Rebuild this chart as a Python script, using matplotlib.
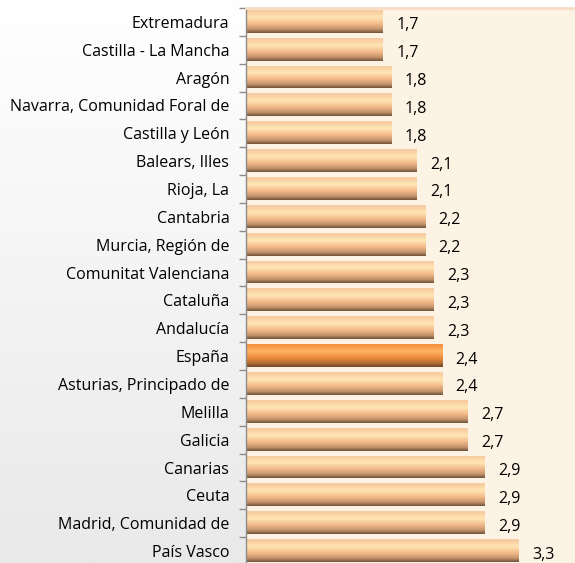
import numpy as np
import matplotlib
matplotlib.use("Agg")
import matplotlib.pyplot as plt
from matplotlib.colors import to_rgb

regions = ["Extremadura", "Castilla - La Mancha", "Aragón", "Navarra, Comunidad Foral de",
           "Castilla y León", "Balears, Illes", "Rioja, La", "Cantabria", "Murcia, Región de",
           "Comunitat Valenciana", "Cataluña", "Andalucía", "España", "Asturias, Principado de",
           "Melilla", "Galicia", "Canarias", "Ceuta", "Madrid, Comunidad de", "País Vasco"]
values = [1.7, 1.7, 1.8, 1.8, 1.8, 2.1, 2.1, 2.2, 2.2, 2.3, 2.3, 2.3, 2.4, 2.4,
          2.7, 2.7, 2.9, 2.9, 2.9, 3.3]
highlight = "España"

plt.rcParams['font.family'] = ['Open Sans', 'DejaVu Sans']

W, H = 575, 563
fig = plt.figure(figsize=(W / 100, H / 100), dpi=100)

# figure background gradient
bg = fig.add_axes([0, 0, 1, 1], zorder=-5)
grad = np.linspace(0, 1, 256)[:, None]
c_top, c_bot = np.array(to_rgb("#FFFFFF")), np.array(to_rgb("#E9E9E9"))
bgimg = c_top[None, None, :] * (1 - grad[..., None]) + c_bot[None, None, :] * grad[..., None]
bg.imshow(bgimg, aspect='auto', extent=(0, 1, 0, 1), origin='upper')
bg.axis('off')

ax = fig.add_axes([246 / W, -2 / H, 1 - 246 / W, 557 / H])
ax.set_facecolor("#FDF3E4")


def make_grad(stops):
    pos = np.array([s[0] for s in stops])
    cols = np.array([to_rgb(s[1]) for s in stops])
    t = np.linspace(0, 1, 200)
    arr = np.stack([np.interp(t, pos, cols[:, k]) for k in range(3)], axis=-1)
    return arr[:, None, :]


normal_grad = make_grad([(0.0, "#F9E0C8"), (0.08, "#F7C89E"), (0.35, "#FFE6B4"),
                         (0.62, "#F4BA89"), (0.84, "#C4936A"), (1.0, "#6E5139")])
hl_grad = make_grad([(0.0, "#F9B377"), (0.08, "#F6903C"), (0.35, "#FFB465"),
                     (0.62, "#EC8B3A"), (0.84, "#B26C32"), (1.0, "#6A4428")])

y = np.arange(len(regions))
h = 0.86
bars = ax.barh(y, values, height=h, color='none', edgecolor='none')

xmin, xmax = 0.09, 3.96
for yi, (patch, reg, v) in enumerate(zip(bars, regions, values)):
    g = hl_grad if reg == highlight else normal_grad
    im = ax.imshow(g, aspect='auto', interpolation='bilinear', origin='upper',
                   extent=(xmin, v, yi + h / 2 - 0.04, yi - h / 2 - 0.04), zorder=2)
    im.set_clip_path(patch)
    patch.set_y(patch.get_y() - 0.04)
    ax.annotate(f"{v:.1f}".replace('.', ','), xy=(v, yi), xytext=(9.5, -2.5),
                textcoords='offset points', ha='left', va='center', fontsize=11.5,
                color='#000000')

ax.set_xlim(xmin, xmax)
ax.set_ylim(len(regions) - 0.5, -0.5)
ax.set_yticks(y)
ax.set_yticklabels(regions, fontsize=11.5)
ax.set_yticks(np.arange(len(regions) + 1) - 0.5, minor=True)
ax.tick_params(axis='y', which='major', length=0, pad=12)
ax.tick_params(axis='y', which='minor', length=5, color='#8C8C8C', width=1)
ax.set_xticks([])
for s in ['right', 'bottom']:
    ax.spines[s].set_visible(False)
ax.spines['top'].set_color('#F8DCC2')
ax.spines['top'].set_linewidth(2)
ax.spines['left'].set_color('#8C8C8C')
ax.spines['left'].set_linewidth(1)

fig.savefig("out.png", dpi=100)
